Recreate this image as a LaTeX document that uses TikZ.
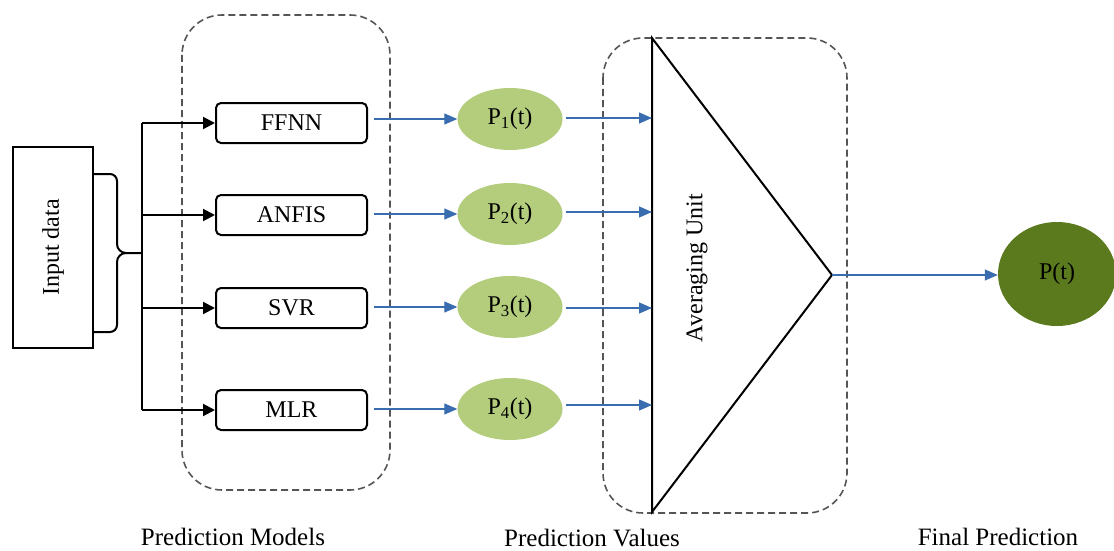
\documentclass[tikz,border=0pt]{standalone}
\usepackage{fontspec}
\setmainfont{Liberation Serif}
\usetikzlibrary{arrows.meta,shapes.geometric}
\definecolor{flowblue}{HTML}{3A6DB0}
\definecolor{lightgreen}{HTML}{B3CD7C}
\definecolor{darkgreen}{HTML}{5B7A1E}
\definecolor{dashgray}{HTML}{555555}
\tikzset{
  txt/.style={font=\fontsize{24}{28}\selectfont},
  model/.style={draw, line width=2pt, rounded corners=5pt, minimum width=151pt, minimum height=40pt, txt},
  pval/.style={ellipse, fill=lightgreen, minimum width=105pt, minimum height=62pt, inner sep=0pt, txt},
  group/.style={draw=dashgray, line width=1.6pt, dash pattern=on 7pt off 4pt, rounded corners=40pt},
  feed/.style={line width=2pt, -{Triangle[length=12pt,width=12pt]}},
  flow/.style={draw=flowblue, line width=1.2pt, -{Triangle[length=13pt,width=11pt]}, flowblue},
  caption/.style={font=\fontsize{25}{28}\selectfont, inner sep=0pt}
}
\begin{document}
\begin{tikzpicture}[x=1pt,y=-1pt]
\useasboundingbox (0,0) rectangle (1114,551);

% dashed group frames
\draw[group] (182,15) rectangle (390,490);
\draw[group] (603,38) rectangle (847,513);

% input block with its brace
\node[draw, line width=2pt, minimum width=80pt, minimum height=201pt, inner sep=0pt] (in) at (53,247.5) {};
\node[rotate=90, txt] at (in.center) {Input data};
\draw[line width=2pt] (93,174) -- (110,174) to[out=0,in=90] (117,181) -- (117,244) to[out=-90,in=180] (126,253) -- (142,253);
\draw[line width=2pt] (93,332) -- (110,332) to[out=0,in=-90] (117,325) -- (117,262) to[out=90,in=180] (126,253);
\coordinate (split) at (142,253);

% prediction models
\node[model] (ffnn)  at (291.5,123) {FFNN};
\node[model] (anfis) at (291.5,215) {ANFIS};
\node[model] (svr)   at (291.5,308) {SVR};
\node[model] (mlr)   at (291.5,410) {MLR};

\draw[line width=2pt] (142,123) -- (142,410);
\foreach \m in {ffnn,anfis,svr,mlr}
  \draw[feed] (142,0 |- \m.west) -- (\m.west);

% prediction values
\node[pval] (p1) at (510,119) {P\textsubscript{1}(t)};
\node[pval] (p2) at (510,214) {P\textsubscript{2}(t)};
\node[pval] (p3) at (510,307) {P\textsubscript{3}(t)};
\node[pval] (p4) at (510,409) {P\textsubscript{4}(t)};

\foreach \m/\p in {ffnn/p1,anfis/p2,svr/p3,mlr/p4}
  \draw[flow] ([xshift=6pt]\m.east |- \p.west) -- (\p.west);

% averaging unit
\coordinate (ta) at (652,38);
\coordinate (tb) at (652,512);
\coordinate (tip) at (832,275);
\draw[line width=2pt, line join=miter] (ta) -- (tip) -- (tb) -- cycle;
\node[rotate=90, txt] (avg) at (697,268) {Averaging Unit};

\foreach \p/\y in {p1/118,p2/212,p3/308,p4/405}
  \draw[flow] ([xshift=3pt]\p.east |- 0,\y) -- (652,\y);

% final prediction
\node[ellipse, fill=darkgreen, minimum width=118pt, minimum height=104pt, inner sep=0pt, txt] (pf) at (1057,274) {P(t)};
\draw[flow] (tip) -- (tip -| pf.west);

% captions
\node[caption] at (233,537) {Prediction Models};
\node[caption] at (592,538) {Prediction Values};
\node[caption] at (998,537) {Final Prediction};
\end{tikzpicture}
\end{document}
